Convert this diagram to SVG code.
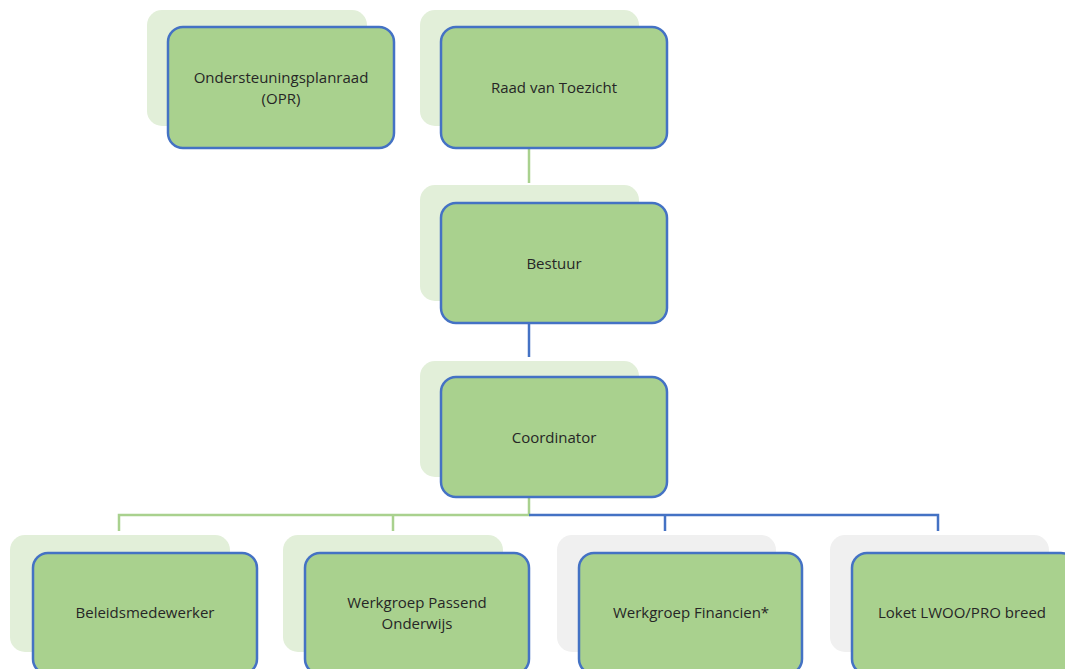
<svg xmlns="http://www.w3.org/2000/svg" width="1065" height="669" viewBox="0 0 1065 669">
<style>
.sg{fill:#e2efd9}
.sy{fill:#f0f0f0}
.fr{fill:#a9d18e;stroke:#4472c4;stroke-width:2.5}
.t{font-family:"Open Sans","Liberation Sans",Arial,sans-serif;font-size:15px;fill:#262626;text-anchor:middle;dominant-baseline:central}
.cg{stroke:#a9d18e;stroke-width:2.5;fill:none}
.cb{stroke:#4472c4;stroke-width:2.5;fill:none}
</style>
<rect width="1065" height="669" fill="#ffffff"/>
<g id="connectors">
<line class="cg" x1="529" y1="148" x2="529" y2="183"/>
<line class="cb" x1="529" y1="323" x2="529" y2="357"/>
<polyline class="cg" points="529,497 529,515 119,515 119,531"/>
<line class="cg" x1="393" y1="515" x2="393" y2="531"/>
<polyline class="cb" points="529,515 938,515 938,531"/>
<line class="cb" x1="665" y1="515" x2="665" y2="531"/>
</g>
<g id="opr">
<rect class="sg" x="147" y="10" width="220" height="116" rx="15"/>
<rect class="fr" x="168" y="27" width="226" height="121" rx="15"/>
<text class="t" x="281" y="77">Ondersteuningsplanraad</text>
<text class="t" x="281" y="98">(OPR)</text>
</g>
<g id="rvt">
<rect class="sg" x="420" y="10" width="219" height="116" rx="15"/>
<rect class="fr" x="441" y="27" width="226" height="121" rx="15"/>
<text class="t" x="554" y="87">Raad van Toezicht</text>
</g>
<g id="bestuur">
<rect class="sg" x="420" y="185" width="219" height="116" rx="15"/>
<rect class="fr" x="441" y="203" width="226" height="120" rx="15"/>
<text class="t" x="554" y="263">Bestuur</text>
</g>
<g id="coordinator">
<rect class="sg" x="420" y="361" width="219" height="116" rx="15"/>
<rect class="fr" x="441" y="377" width="226" height="120" rx="15"/>
<text class="t" x="554" y="437">Coordinator</text>
</g>
<g id="beleid">
<rect class="sg" x="10" y="535" width="220" height="117" rx="15"/>
<rect class="fr" x="33" y="553" width="224" height="121" rx="15"/>
<text class="t" x="145" y="612">Beleidsmedewerker</text>
</g>
<g id="wpo">
<rect class="sg" x="283" y="535" width="220" height="117" rx="15"/>
<rect class="fr" x="305" y="553" width="224" height="121" rx="15"/>
<text class="t" x="417" y="602">Werkgroep Passend</text>
<text class="t" x="417" y="623">Onderwijs</text>
</g>
<g id="wf">
<rect class="sy" x="557" y="535" width="219" height="117" rx="15"/>
<rect class="fr" x="579" y="553" width="223" height="121" rx="15"/>
<text class="t" x="691" y="612">Werkgroep Financien*</text>
</g>
<g id="loket">
<rect class="sy" x="830" y="535" width="219" height="117" rx="15"/>
<rect class="fr" x="852" y="553" width="224" height="121" rx="15"/>
<text class="t" x="962" y="612">Loket LWOO/PRO breed</text>
</g>
</svg>
